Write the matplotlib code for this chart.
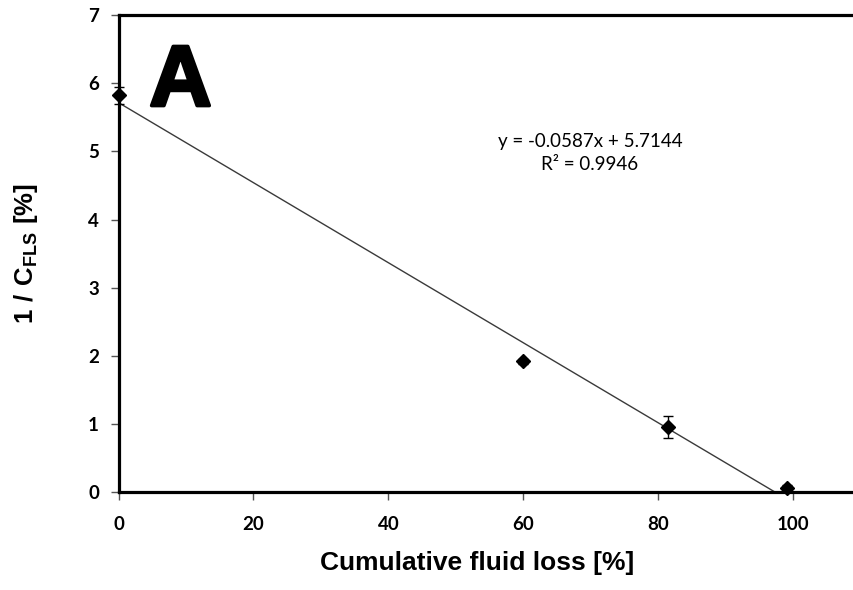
import matplotlib
matplotlib.use("Agg")
import matplotlib.pyplot as plt
import matplotlib.patheffects as pe
import numpy as np

# Measured data
fluid_loss = [0.0, 60.0, 81.4, 99.0]          # cumulative fluid loss [%]
inv_cfls = [5.82, 1.92, 0.96, 0.06]           # 1 / C_FLS [%]
inv_cfls_err = [0.12, 0.04, 0.16, 0.04]

# Linear trendline
slope = -0.0587
intercept = 5.7144
r_squared = 0.9946

x_ticks = [0, 20, 40, 60, 80, 100]
y_ticks = [0, 1, 2, 3, 4, 5, 6, 7]

plt.rcParams["mathtext.fontset"] = "custom"
plt.rcParams["mathtext.rm"] = "Liberation Sans"
plt.rcParams["mathtext.bf"] = "Liberation Sans:bold"

fig = plt.figure(figsize=(8.54, 5.90), dpi=100)
ax = fig.add_axes([0.1388, 0.1656, 0.8612, 0.8090])

ax.set_xlim(0, 109)
ax.set_ylim(0, 7)

# trendline, drawn from the fitted equation
xl = np.array([fluid_loss[0], fluid_loss[-1]])
ax.plot(xl, slope * xl + intercept, color="#3a3a3a", lw=1.0, zorder=2)

ax.errorbar(fluid_loss, inv_cfls, yerr=inv_cfls_err, fmt="D", color="black",
            markersize=7, ecolor="black", elinewidth=1.0, capsize=3.3,
            capthick=1.0, zorder=3, clip_on=False)

for side in ["left", "bottom", "top"]:
    ax.spines[side].set_linewidth(2.3)
    ax.spines[side].set_color("black")
ax.spines["right"].set_visible(False)

ax.set_xticks(x_ticks)
ax.set_yticks(y_ticks)
ax.tick_params(axis="both", direction="out", length=6, width=1.0,
               color="#555555", pad=8)
for lbl in ax.get_xticklabels() + ax.get_yticklabels():
    lbl.set_fontfamily("Lato")
    lbl.set_fontweight("bold")
    lbl.set_fontsize(13.5)
ax.tick_params(axis="x", pad=11)

ax.set_xlabel("Cumulative fluid loss [%]", fontfamily="Liberation Sans",
              fontweight="bold", fontsize=19)
ax.xaxis.set_label_coords(0.488, -0.122)
ax.set_ylabel(r"$\mathbf{1\ /\ C_{FLS}\ [\%]}$", fontsize=18.5)
ax.yaxis.set_label_coords(-0.107, 0.5)

eq_x = 590
ax.text(eq_x, 590 - 141, "y = -0.0587x + 5.7144", transform=None,
        ha="center", va="center", fontfamily="Lato", fontsize=13.5)
ax.text(eq_x, 590 - 164, f"R² = {r_squared:.4f}", transform=None,
        ha="center", va="center", fontfamily="Lato", fontsize=13.5)

ax.text(0.042, 0.94, "A", transform=ax.transAxes, ha="left", va="top",
        fontfamily="Liberation Sans", fontweight="bold", fontsize=62,
        path_effects=[pe.withStroke(linewidth=2.5, foreground="black")])

fig.savefig("out.png", dpi=100)
